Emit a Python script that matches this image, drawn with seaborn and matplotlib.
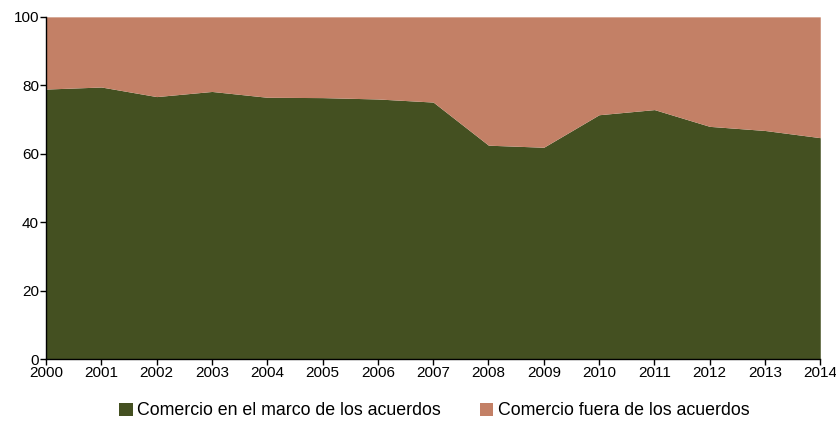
import matplotlib
matplotlib.use("Agg")
import matplotlib.pyplot as plt
import seaborn as sns
import pandas as pd
from matplotlib.patches import Patch

years = [2000, 2001, 2002, 2003, 2004, 2005, 2006, 2007,
         2008, 2009, 2010, 2011, 2012, 2013, 2014]
dentro = [78.9, 79.5, 76.7, 78.2, 76.5, 76.4, 76.0, 75.1,
          62.5, 61.9, 71.4, 72.9, 68.0, 66.8, 64.7]
fuera = [100 - v for v in dentro]
series_names = ["Comercio en el marco de los acuerdos",
                "Comercio fuera de los acuerdos"]
colors = ["#445021", "#C38066"]

df = pd.DataFrame({"year": years, series_names[0]: dentro, series_names[1]: fuera})

sns.set_style("white")
plt.rcParams["font.family"] = ["Liberation Sans", "DejaVu Sans"]
plt.rcParams["text.color"] = "#000000"

fig = plt.figure(figsize=(8.37, 4.21), dpi=100)
ax = fig.add_axes([0.055, 0.147, 0.925, 0.813])

ax.stackplot(df["year"], df[series_names[0]], df[series_names[1]],
             colors=colors, linewidth=0)

ax.set_xlim(2000, 2014)
ax.set_ylim(0, 100)
ax.set_xticks(years)
ax.set_xticklabels([str(y) for y in years])
ax.set_yticks([0, 20, 40, 60, 80, 100])
ax.tick_params(axis="both", labelsize=11, length=4, width=1, color="#000000",
               labelcolor="#000000", direction="out", pad=1,
               left=True, bottom=True)
sns.despine(ax=ax, top=True, right=True)
for s in ["left", "bottom"]:
    ax.spines[s].set_color("#000000")
    ax.spines[s].set_linewidth(1)

handles = [Patch(facecolor=c, edgecolor="none") for c in colors]
fig.legend(handles, series_names, loc="center", ncol=2, frameon=False,
           fontsize=12.8, bbox_to_anchor=(0.519, 0.024), handlelength=0.75,
           handleheight=0.75, handletextpad=0.25, columnspacing=2.2,
           borderpad=0, borderaxespad=0, labelcolor="#000000")

fig.savefig("out.png", dpi=100)
